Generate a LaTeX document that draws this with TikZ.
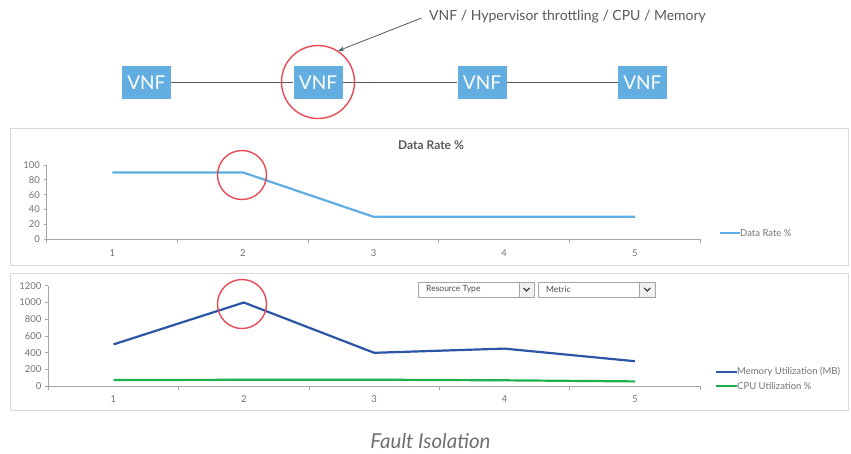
\documentclass[tikz,border=0pt]{standalone}
\usepackage{fontspec}
\setmainfont{Lato}
\usetikzlibrary{arrows.meta}
\definecolor{boxblue}{HTML}{62AEE1}
\definecolor{connc}{HTML}{4F5B63}
\definecolor{ringred}{HTML}{E84A55}
\definecolor{drblue}{HTML}{5FAEE3}
\definecolor{memblue}{HTML}{2A56A5}
\definecolor{cpugreen}{HTML}{1DB14B}
\definecolor{axisgray}{HTML}{A6A6A6}
\definecolor{labgray}{HTML}{737373}
\definecolor{panelgray}{HTML}{DADADA}
\definecolor{capgray}{HTML}{707070}
\begin{document}
\begin{tikzpicture}[x=1pt,y=-1pt,
  vnfbox/.style={fill=boxblue, text=white, minimum width=49pt, minimum height=33pt, inner sep=0pt, font=\fontsize{19}{21}\selectfont},
  conn/.style={draw=connc, line width=0.9pt},
  ring/.style={circle, draw=ringred, line width=1.4pt, inner sep=0pt},
  panel/.style={draw=panelgray, line width=0.8pt},
  axisline/.style={draw=axisgray, line width=0.8pt},
  ticklab/.style={text=labgray, font=\fontsize{9.5}{10}\selectfont, inner sep=1pt},
  leglab/.style={text=labgray, font=\fontsize{9.5}{10}\selectfont, inner sep=0.5pt, anchor=west},
  ddbox/.style={draw=axisgray, line width=0.6pt, fill=white},
  ddbtn/.style={draw=axisgray, line width=0.6pt, fill=gray!12},
  ddlab/.style={text=black!70, font=\fontsize{8.5}{9}\selectfont, anchor=west, inner sep=0pt},
  chev/.style={draw=black!75, line width=1.2pt}
]
\fill[white] (0,0) rectangle (851,453);
\useasboundingbox (0,0) rectangle (851,453);

% ---------- top VNF chain ----------
\node[vnfbox] (v1) at (146.4,82.5) {VNF};
\node[vnfbox] (v2) at (318,82.5) {VNF};
\node[vnfbox] (v3) at (482,82.5) {VNF};
\node[vnfbox] (v4) at (642.4,82.5) {VNF};
\draw[conn] (v1) -- (v2);
\draw[conn] (v2) -- (v3);
\draw[conn] (v3) -- (v4);
\node[ring, minimum size=73pt] (c1) at (318,82) {};
\node[anchor=west, text=black!65, font=\fontsize{14}{16}\selectfont, inner sep=0pt] (note) at (429,17) {VNF / Hypervisor throttling / CPU / Memory};
\coordinate (notetail) at (421.5,18);
\draw[draw=connc, line width=0.8pt, -{Stealth[length=6pt,width=4.5pt]}] (notetail) -- (c1.57);

% ---------- panels ----------
\draw[panel] (10.5,128.5) rectangle (848,265.5);
\draw[panel] (10.5,273.5) rectangle (848,410.5);

% ---------- chart 1 ----------
\node[font=\bfseries\fontsize{12}{14}\selectfont, text=black!65] (t1) at (431,145) {Data Rate \%};
\draw[axisline] (46.7,165) -- (46.7,239) -- (700,239);
\foreach \v/\yy in {0/239,20/224.2,40/209.4,60/194.6,80/179.8,100/165}{
  \draw[axisline] (43.5,\yy) -- (46.7,\yy);
  \node[ticklab, anchor=east] (ya\v) at (41,\yy) {\v};
}
\foreach \xx in {46.7,177.4,308,438.7,569.3,700}{
  \draw[axisline] (\xx,239) -- (\xx,242.5);
}
\foreach \i/\xx in {1/112.3,2/242.9,3/373.6,4/504.2,5/634.8}{
  \node[ticklab] (xa\i) at (\xx,253) {\i};
}
\draw[drblue, line width=2.2pt, line join=round] (112.3,172.4) -- (242.9,172.4) -- (373.6,216.8) -- (504.2,216.8) -- (634.8,216.8);
\node[ring, minimum size=49pt] (r1) at (242,175) {};
\draw[drblue, line width=2.2pt] (720,233) -- (739.5,233);
\node[leglab] (lg1) at (739.5,233) {Data Rate \%};

% ---------- chart 2 ----------
\draw[axisline] (48.3,285.7) -- (48.3,386.3) -- (700,386.3);
\foreach \v/\yy in {0/386.3,200/369.5,400/352.7,600/336.0,800/319.2,1000/302.5,1200/285.7}{
  \draw[axisline] (45,\yy) -- (48.3,\yy);
  \node[ticklab, anchor=east] (yb\v) at (42.5,\yy) {\v};
}
\foreach \xx in {48.3,178.6,309,439.3,569.6,700}{
  \draw[axisline] (\xx,386.3) -- (\xx,389.8);
}
\foreach \i/\xx in {1/113.5,2/243.8,3/374.2,4/504.5,5/634.8}{
  \node[ticklab] (xb\i) at (\xx,399) {\i};
}
\draw[cpugreen, line width=2.2pt, line join=round] (113.5,380.0) -- (243.8,379.8) -- (374.2,379.7) -- (504.5,380.3) -- (634.8,381.4);
\draw[memblue, line width=2.2pt, line join=round] (113.5,344.4) -- (243.8,302.5) -- (374.2,352.8) -- (504.5,348.6) -- (634.8,361.2);
\node[ring, minimum size=49pt] (r2) at (242,304) {};

% dropdowns
\draw[ddbox] (418.5,282) rectangle (534,297);
\draw[ddbtn] (519,282) rectangle (534,297);
\node[ddlab] (dd1) at (426,289.5) {Resource Type};
\draw[chev] (523.5,288) -- (526.5,291) -- (529.5,288);
\draw[ddbox] (538.5,282) rectangle (655,297);
\draw[ddbtn] (639.5,282) rectangle (655,297);
\node[ddlab] (dd2) at (546,289.5) {Metric};
\draw[chev] (644.2,288) -- (647.2,291) -- (650.2,288);

% legend 2
\draw[memblue, line width=2.2pt] (716,372) -- (736.5,372);
\node[leglab] (lg2) at (736.5,372) {Memory Utilization (MB)};
\draw[cpugreen, line width=2.2pt] (716,385.7) -- (736.5,385.7);
\node[leglab] (lg3) at (736.5,385.7) {CPU Utilization \%};

% caption
\node[text=capgray, font=\itshape\fontsize{20.5}{24}\selectfont, inner sep=0pt] (cap) at (430.5,441.5) {Fault Isolation};
\end{tikzpicture}
\end{document}
